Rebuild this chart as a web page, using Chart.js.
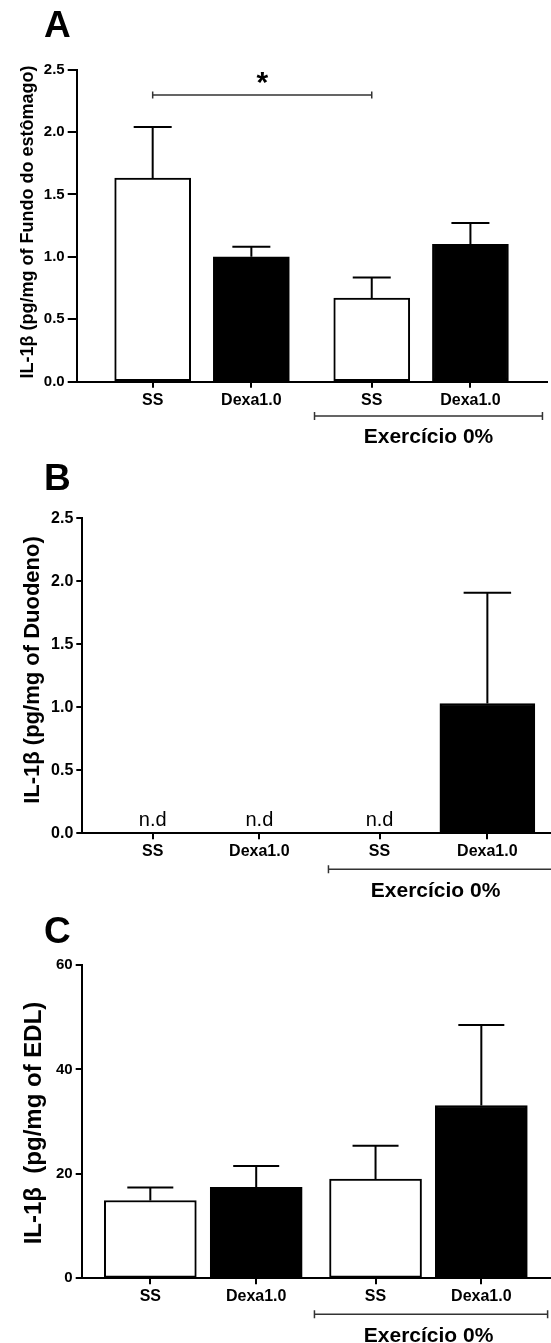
<!DOCTYPE html>
<html>
<head>
<meta charset="utf-8">
<script src="https://cdn.jsdelivr.net/npm/chart.js@4.4.1/dist/chart.umd.min.js"></script>
<style>
  body { margin: 0; background: #fff; }
  canvas { position: absolute; left: 0; }
</style>
</head>
<body>
<canvas id="panelA" width="551" height="450" style="top:0px"></canvas>
<canvas id="panelB" width="551" height="450" style="top:450px"></canvas>
<canvas id="panelC" width="551" height="443" style="top:900px"></canvas>
<script>
const categories = ["SS", "Dexa1.0", "SS", "Dexa1.0"];
const barFill = ["#ffffff", "#000000", "#ffffff", "#000000"];
const groupLabel = "Exercício 0%";

// A - fundo do estômago
const fundoMean = [1.63, 1.0, 0.67, 1.1];
const fundoSem = [0.41, 0.08, 0.165, 0.17];
const fundoTicks = [0, 0.5, 1.0, 1.5, 2.0, 2.5];

// B - duodeno (n.d nos tres primeiros grupos)
const duodenoMean = [null, null, null, 1.03];
const duodenoSem = [null, null, null, 0.88];
const duodenoTicks = [0, 0.5, 1.0, 1.5, 2.0, 2.5];

// C - EDL
const edlMean = [14.9, 17.4, 19.0, 33.1];
const edlSem = [2.5, 4.1, 6.4, 15.4];
const edlTicks = [0, 20, 40, 60];

const FONT = "'Liberation Sans', Arial, sans-serif";

function extras(p) {
    return {
        id: "extras",
        afterDatasetsDraw(chart) {
            const ctx = chart.ctx;
            const y = chart.scales.y;
            const meta = chart.getDatasetMeta(0);
            ctx.save();
            ctx.strokeStyle = "#000";
            ctx.lineWidth = 2;
            meta.data.forEach((bar, i) => {
                if (p.sem[i] == null) return;
                const top = y.getPixelForValue(p.mean[i] + p.sem[i]);
                const half = p.barWidth / 4;
                ctx.beginPath();
                ctx.moveTo(bar.x, bar.y);
                ctx.lineTo(bar.x, top);
                ctx.moveTo(bar.x - half, top);
                ctx.lineTo(bar.x + half, top);
                ctx.stroke();
            });
            ctx.restore();
        },
        afterDraw(chart) {
            const ctx = chart.ctx;
            const x = chart.scales.x;
            const area = chart.chartArea;
            ctx.save();
            ctx.fillStyle = "#000";

            // n.d
            ctx.font = "20px " + FONT;
            ctx.textAlign = "center";
            ctx.textBaseline = "alphabetic";
            p.mean.forEach((m, i) => {
                if (m == null) ctx.fillText("n.d", x.getPixelForValue(p.slots[i]), area.bottom - 7);
            });

            // bracket: significancia
            ctx.strokeStyle = "#333";
            ctx.lineWidth = 1.5;
            if (p.sig) {
                const x1 = x.getPixelForValue(p.slots[p.sig[0]]);
                const x2 = x.getPixelForValue(p.slots[p.sig[1]]);
                ctx.beginPath();
                ctx.moveTo(x1, p.sigY); ctx.lineTo(x2, p.sigY);
                ctx.moveTo(x1, p.sigY - 3.5); ctx.lineTo(x1, p.sigY + 3.5);
                ctx.moveTo(x2, p.sigY - 3.5); ctx.lineTo(x2, p.sigY + 3.5);
                ctx.stroke();
                ctx.font = "bold 30px " + FONT;
                ctx.fillText("*", (x1 + x2) / 2, p.sigY - 3);
            }

            // bracket: grupo exercicio
            const g1 = x.getPixelForValue(p.bracket[0]);
            const g2 = x.getPixelForValue(p.bracket[1]);
            ctx.beginPath();
            ctx.moveTo(g1, p.bracketY); ctx.lineTo(g2, p.bracketY);
            ctx.moveTo(g1, p.bracketY - 4); ctx.lineTo(g1, p.bracketY + 4);
            ctx.moveTo(g2, p.bracketY - 4); ctx.lineTo(g2, p.bracketY + 4);
            ctx.stroke();
            ctx.font = "bold 21px " + FONT;
            ctx.fillText(groupLabel, (g1 + Math.min(g2, 542.7)) / 2, p.groupTextY);

            // letra do painel
            ctx.textAlign = "left";
            ctx.font = "bold 37px " + FONT;
            ctx.fillText(p.letter, 44, p.letterY);

            // titulo do eixo y
            ctx.save();
            ctx.translate(p.titleX, p.titleY);
            ctx.rotate(-Math.PI / 2);
            ctx.textAlign = "center";
            ctx.font = "bold " + p.titleSize + "px " + FONT;
            ctx.fillText(p.title, 0, 0);
            ctx.restore();

            ctx.restore();
        },
    };
}

function drawPanel(id, p) {
    new Chart(document.getElementById(id), {
        type: "bar",
        data: {
            datasets: [
                {
                    data: categories.map((c, i) => ({ x: p.slots[i], y: p.mean[i] })),
                    backgroundColor: barFill,
                    borderColor: "#000",
                    borderWidth: 2,
                    borderSkipped: false,
                    barThickness: p.barWidth,
                },
            ],
        },
        options: {
            responsive: false,
            animation: false,
            events: [],
            layout: {
                padding: {
                    left: 0,
                    top: p.area.top,
                    right: 551 - p.area.right,
                    bottom: p.height - p.area.bottom - 30,
                },
            },
            plugins: {
                legend: { display: false },
                tooltip: { enabled: false },
            },
            scales: {
                x: {
                    type: "linear",
                    min: 0,
                    max: p.xMax,
                    offset: false,
                    afterFit: (s) => { s.height = 30; },
                    afterBuildTicks: (s) => { s.ticks = p.slots.map((v) => ({ value: v })); },
                    grid: { offset: false, drawOnChartArea: false, color: "#000", lineWidth: 2, tickLength: 6 },
                    border: { color: "#000", width: 2 },
                    ticks: {
                        autoSkip: false,
                        maxRotation: 0,
                        padding: 3,
                        color: "#000",
                        font: { family: FONT, size: 16, weight: "bold" },
                        callback: (v, i) => categories[i],
                    },
                },
                y: {
                    min: p.ticks[0],
                    max: p.ticks[p.ticks.length - 1],
                    afterFit: (s) => { s.width = p.area.left; },
                    afterBuildTicks: (s) => { s.ticks = p.ticks.map((v) => ({ value: v })); },
                    grid: { drawOnChartArea: false, color: "#000", lineWidth: 2, tickLength: p.yTickLen },
                    border: { color: "#000", width: 2 },
                    ticks: {
                        padding: 3,
                        color: "#000",
                        font: { family: FONT, size: p.yFont, weight: "bold" },
                        callback: p.fmt,
                    },
                },
            },
        },
        plugins: [extras(p)],
    });
}

drawPanel("panelA", {
    letter: "A", letterY: 37,
    title: "IL-1β (pg/mg of Fundo do estômago)", titleSize: 18, titleX: 33, titleY: 222,
    mean: fundoMean, sem: fundoSem, ticks: fundoTicks,
    fmt: (v) => v.toFixed(1), yFont: 15, yTickLen: 9,
    height: 450, area: { left: 76.7, top: 69.5, right: 546.7, bottom: 381.7 },
    slots: [0.77, 1.77, 2.99, 3.99], xMax: 4.763, barWidth: 76,
    sig: [0, 2], sigY: 95,
    bracket: [2.41, 4.72], bracketY: 416, groupTextY: 442.5,
});

drawPanel("panelB", {
    letter: "B", letterY: 40,
    title: "IL-1β (pg/mg of Duodeno)", titleSize: 22, titleX: 39, titleY: 220,
    mean: duodenoMean, sem: duodenoSem, ticks: duodenoTicks,
    fmt: (v) => v.toFixed(1), yFont: 16, yTickLen: 6,
    height: 450, area: { left: 82.3, top: 68.3, right: 551, bottom: 383.3 },
    slots: [0.656, 1.65, 2.77, 3.775], xMax: 4.368, barWidth: 95,
    sig: null,
    bracket: [2.294, 4.6], bracketY: 419.3, groupTextY: 446.7,
});

drawPanel("panelC", {
    letter: "C", letterY: 43.3,
    title: "IL-1β  (pg/mg of EDL)", titleSize: 24, titleX: 41, titleY: 223,
    mean: edlMean, sem: edlSem, ticks: edlTicks,
    fmt: (v) => String(v), yFont: 15, yTickLen: 6,
    height: 443, area: { left: 81.7, top: 65, right: 551, bottom: 378.3 },
    slots: [0.648, 1.648, 2.775, 3.774], xMax: 4.432, barWidth: 92,
    sig: null,
    bracket: [2.198, 4.40], bracketY: 414.3, groupTextY: 441.7,
});
</script>
</body>
</html>
